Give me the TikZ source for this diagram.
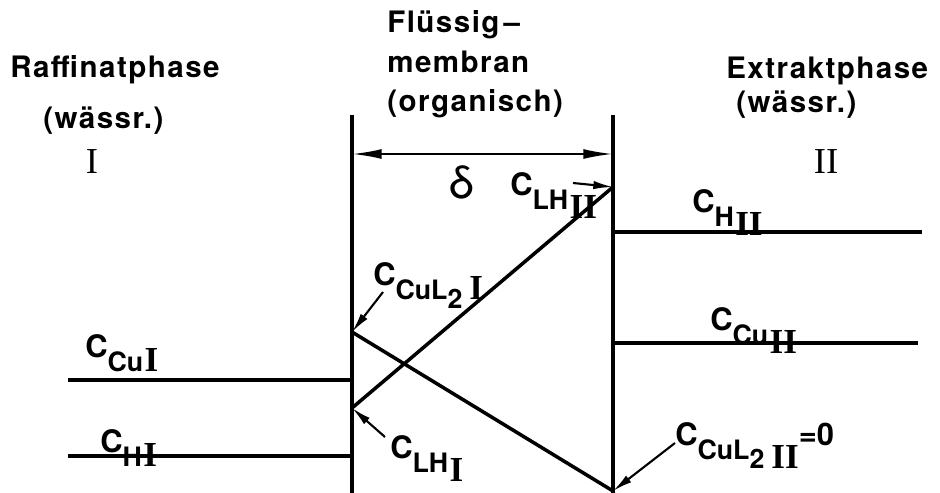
\documentclass[tikz,border=0pt]{standalone}
\usepackage{fontspec}
\usepackage{tikz}
\usetikzlibrary{arrows.meta}
\newfontfamily\heros{TeX Gyre Heros}
\newfontfamily\heroswide{TeX Gyre Heros}[LetterSpace=5]
\newfontfamily\romfont{Liberation Serif}
\newcommand{\ttlfont}{\heroswide\bfseries\fontsize{21}{25}\selectfont}
\newcommand{\cfont}{\heros\bfseries\fontsize{22}{26}\selectfont}
\newcommand{\romsub}{\romfont\fontsize{25}{25}\selectfont}
\newcommand{\lowr}[1]{\raisebox{-7pt}{#1}}
\newcommand{\conc}[2]{C\raisebox{-10pt}{\fontsize{19}{19}\selectfont #1\kern1pt{\romsub #2}}}

\begin{document}
\begin{tikzpicture}[x=0.025cm, y=-0.025cm,
  wall/.style={line width=3pt},
  prof/.style={line width=2.5pt},
  dim/.style={line width=1.5pt, {Latex[length=21pt,width=7pt]}-{Latex[length=21pt,width=7pt]}},
  pointer/.style={line width=1.5pt, -{Latex[length=14pt,width=6pt]}},
  title/.style={anchor=base west, inner sep=0pt, font=\ttlfont},
  numeral/.style={anchor=base, inner sep=0pt, font=\romfont\fontsize{26}{26}\selectfont},
  lab/.style={anchor=base west, inner sep=0pt, font=\cfont}]

\useasboundingbox (0,0) rectangle (940,493);

% Ueberschriften
\node[title] (raff) at (10,77) {Raffinatphase};
\node[title] (raffw) at (43,128) {(wässr.)};
\node[numeral] (phI) at (92,173) {I};
\node[title] (mem1) at (387,32) {Flüssig\kern3pt–};
\node[title] (mem2) at (387,72) {membran};
\node[title] (mem3) at (387,111) {(organisch)};
\node[title] (extr) at (726,78) {Extraktphase};
\node[title] (extrw) at (736,112) {(wässr.)};
\node[numeral] (phII) at (826,173) {II};

% Membranwaende
\coordinate (mlt) at (352,115);
\coordinate (mlb) at (352,493);
\coordinate (mrt) at (613,115);
\coordinate (mrb) at (613,493);
\draw[wall] (mlt) -- (mlb);
\draw[wall] (mrt) -- (mrb);

% Membrandicke
\coordinate (dl) at (352,154);
\coordinate (dr) at (613,154);
\draw[dim] (dl) -- (dr);
\node[font=\heros\fontsize{32}{32}\selectfont] (delta) at (462,182) {δ};

% Konzentrationen in den waessrigen Phasen
\coordinate (cuIa) at (68,380);
\coordinate (hIa) at (68,456);
\coordinate (hIIb) at (922,232);
\coordinate (cuIIb) at (918,343);
\draw[prof] (cuIa) -- (cuIa -| mlt);
\draw[prof] (hIa) -- (hIa -| mlt);
\draw[prof] (hIIb -| mrt) -- (hIIb);
\draw[prof] (cuIIb -| mrt) -- (cuIIb);

% Profile in der Membran
\coordinate (cul2I) at (352,332);
\coordinate (cul2II) at (613,491);
\coordinate (lhI) at (352,408);
\coordinate (lhII) at (613,187);
\draw[prof] (cul2I) -- (cul2II);
\draw[prof] (lhI) -- (lhII);

% Beschriftungen
\node[lab] (cCuI) at (85,357) {\conc{Cu}{I}};
\node[lab] (cHI) at (100,452) {\conc{H}{I}};
\node[lab] (cHII) at (692,212) {\conc{H}{\lowr{II}}};
\node[lab] (cCuII) at (710,330) {\conc{Cu}{\lowr{II}}};
\node[lab] (cCuLI) at (373,285) {\conc{CuL\lowr{2}\kern4pt}{I}};
\node[lab] (cLHI) at (390,458) {\conc{LH}{\lowr{I}}};
\node[lab] (cLHII) at (510,195) {\conc{LH}{\lowr{II}}};
\node[lab] (cCuLII) at (675,445) {\conc{CuL\lowr{2}\kern4pt}{\lowr{II}}=0};

% Zeiger
\coordinate (pCuLI) at (383,292);
\coordinate (pLHI) at (385,437);
\coordinate (pLHII) at (573,183);
\coordinate (pCuLII) at (675,443);
\draw[pointer] (pCuLI) -- (cul2I);
\draw[pointer] (pLHI) -- (lhI);
\draw[pointer] (pLHII) -- (lhII);
\draw[pointer] (pCuLII) -- (cul2II);

\end{tikzpicture}
\end{document}
